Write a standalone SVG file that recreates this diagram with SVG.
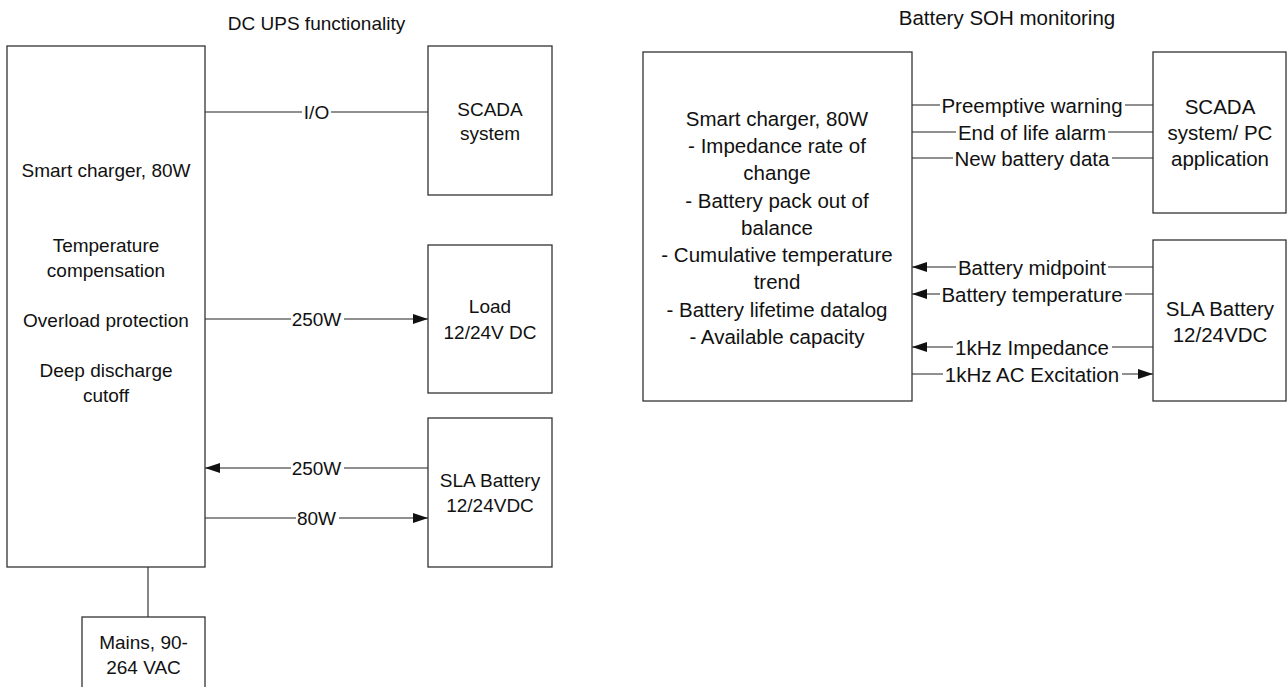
<svg xmlns="http://www.w3.org/2000/svg" width="1288" height="687" viewBox="0 0 1288 687">
<style>
  .box{fill:#fff;stroke:#333;stroke-width:1.3}
  .ln{fill:none;stroke:#222;stroke-width:1.1}
  .t{font-family:"Liberation Sans",Arial,sans-serif;fill:#111;text-anchor:middle}
  .s{font-size:19px}
  .r{font-size:20.5px}
  .bg{fill:#fff}
</style>
<defs>
  <marker id="arr" viewBox="0 0 15 10" refX="15" refY="5" markerWidth="15" markerHeight="10" markerUnits="userSpaceOnUse" orient="auto">
    <path d="M0,0 L15,5 L0,10 z" fill="#111"/>
  </marker>
</defs>
<rect width="1288" height="687" fill="#fff"/>

<text class="t s" x="316.5" y="30">DC UPS functionality</text>
<text class="t r" x="1007" y="25">Battery SOH monitoring</text>

<g id="connectors">
  <line class="ln" x1="205" y1="112" x2="428" y2="112"/>
  <line class="ln" x1="205" y1="319" x2="428" y2="319" marker-end="url(#arr)"/>
  <line class="ln" x1="428" y1="468" x2="205" y2="468" marker-end="url(#arr)"/>
  <line class="ln" x1="205" y1="518" x2="428" y2="518" marker-end="url(#arr)"/>
  <line class="ln" x1="148" y1="567" x2="148" y2="617"/>

  <line class="ln" x1="912" y1="105" x2="1153" y2="105"/>
  <line class="ln" x1="912" y1="132" x2="1153" y2="132"/>
  <line class="ln" x1="912" y1="158" x2="1153" y2="158"/>
  <line class="ln" x1="1153" y1="267" x2="912" y2="267" marker-end="url(#arr)"/>
  <line class="ln" x1="1153" y1="294" x2="912" y2="294" marker-end="url(#arr)"/>
  <line class="ln" x1="1153" y1="347" x2="912" y2="347" marker-end="url(#arr)"/>
  <line class="ln" x1="912" y1="374" x2="1153" y2="374" marker-end="url(#arr)"/>

  <g id="labels">
    <rect class="bg" x="302" y="104" width="29" height="16"/>
    <text class="t s" x="316.5" y="119">I/O</text>
    <rect class="bg" x="291" y="311" width="53" height="16"/>
    <text class="t s" x="316.5" y="326">250W</text>
    <rect class="bg" x="291" y="460" width="53" height="16"/>
    <text class="t s" x="316.5" y="475">250W</text>
    <rect class="bg" x="296" y="510" width="43" height="16"/>
    <text class="t s" x="316.5" y="525">80W</text>

    <rect class="bg" x="940" y="97" width="185" height="17"/>
    <text class="t r" x="1032" y="113">Preemptive warning</text>
    <rect class="bg" x="956" y="124" width="152" height="17"/>
    <text class="t r" x="1032" y="140">End of life alarm</text>
    <rect class="bg" x="953" y="150" width="159" height="17"/>
    <text class="t r" x="1032" y="166">New battery data</text>
    <rect class="bg" x="956" y="259" width="152" height="17"/>
    <text class="t r" x="1032" y="275">Battery midpoint</text>
    <rect class="bg" x="940" y="286" width="185" height="17"/>
    <text class="t r" x="1032" y="302">Battery temperature</text>
    <rect class="bg" x="953" y="339" width="159" height="17"/>
    <text class="t r" x="1032" y="355">1kHz Impedance</text>
    <rect class="bg" x="943" y="366" width="179" height="17"/>
    <text class="t r" x="1032" y="382">1kHz AC Excitation</text>
  </g>
</g>

<g id="ups-charger">
  <rect class="box" x="7" y="46" width="198" height="521"/>
  <text class="t s" x="106" y="177">Smart charger, 80W</text>
  <text class="t s" x="106" y="252">Temperature</text>
  <text class="t s" x="106" y="277">compensation</text>
  <text class="t s" x="106" y="327">Overload protection</text>
  <text class="t s" x="106" y="377">Deep discharge</text>
  <text class="t s" x="106" y="402">cutoff</text>
</g>

<g id="ups-scada">
  <rect class="box" x="428" y="46" width="124" height="149"/>
  <text class="t s" x="490" y="116">SCADA</text>
  <text class="t s" x="490" y="140">system</text>
</g>

<g id="ups-load">
  <rect class="box" x="428" y="245" width="124" height="148"/>
  <text class="t s" x="490" y="313">Load</text>
  <text class="t s" x="490" y="339">12/24V DC</text>
</g>

<g id="ups-battery">
  <rect class="box" x="428" y="418" width="124" height="149"/>
  <text class="t s" x="490" y="487">SLA Battery</text>
  <text class="t s" x="490" y="512">12/24VDC</text>
</g>

<g id="ups-mains">
  <rect class="box" x="82" y="617" width="123" height="90"/>
  <text class="t s" x="143.5" y="649">Mains, 90-</text>
  <text class="t s" x="143.5" y="674">264 VAC</text>
</g>

<g id="soh-charger">
  <rect class="box" x="643" y="52" width="269" height="349"/>
  <text class="t r" x="777" y="126">Smart charger, 80W</text>
  <text class="t r" x="777" y="153">- Impedance rate of</text>
  <text class="t r" x="777" y="180">change</text>
  <text class="t r" x="777" y="207.5">- Battery pack out of</text>
  <text class="t r" x="777" y="234.5">balance</text>
  <text class="t r" x="777" y="262">- Cumulative temperature</text>
  <text class="t r" x="777" y="289">trend</text>
  <text class="t r" x="777" y="316.5">- Battery lifetime datalog</text>
  <text class="t r" x="777" y="343.5">- Available capacity</text>
</g>

<g id="soh-scada">
  <rect class="box" x="1153" y="52" width="133" height="161"/>
  <text class="t r" x="1220" y="114">SCADA</text>
  <text class="t r" x="1220" y="140">system/ PC</text>
  <text class="t r" x="1220" y="166">application</text>
</g>

<g id="soh-battery">
  <rect class="box" x="1153" y="240" width="133" height="161"/>
  <text class="t r" x="1220" y="315.5">SLA Battery</text>
  <text class="t r" x="1220" y="342">12/24VDC</text>
</g>
</svg>
